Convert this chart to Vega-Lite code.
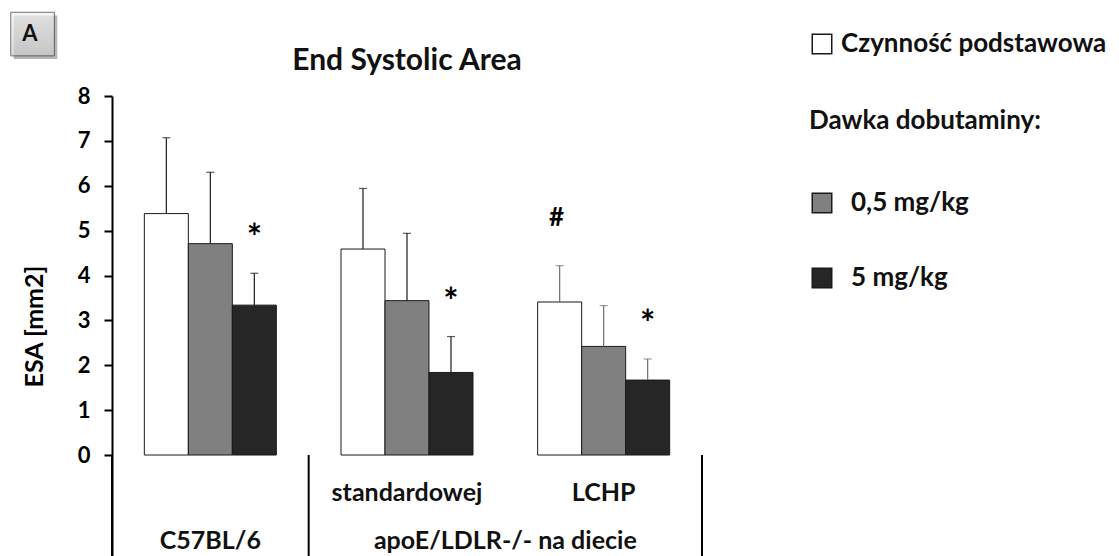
{
  "$schema": "https://vega.github.io/schema/vega-lite/v6.json",
  "autosize": {"type": "none"},
  "padding": {"left": 112, "top": 96, "right": 417, "bottom": 0},
  "width": 590,
  "height": 460,
  "background": "white",
  "config": {
    "view": {"stroke": null},
    "font": "Lato"
  },
  "title": {
    "text": "End Systolic Area",
    "font": "Lato",
    "fontSize": 30,
    "fontWeight": "bold",
    "color": "#111111",
    "anchor": "middle",
    "frame": "group",
    "baseline": "alphabetic",
    "offset": -90
  },
  "datasets": {
    "esa": [
      {"group": "C57BL/6", "condition": "Czynność podstawowa", "mean": 5.38, "upper": 7.07, "sig": ""},
      {"group": "C57BL/6", "condition": "0,5 mg/kg", "mean": 4.71, "upper": 6.30, "sig": ""},
      {"group": "C57BL/6", "condition": "5 mg/kg", "mean": 3.34, "upper": 4.05, "sig": "*"},
      {"group": "standardowej", "condition": "Czynność podstawowa", "mean": 4.59, "upper": 5.94, "sig": ""},
      {"group": "standardowej", "condition": "0,5 mg/kg", "mean": 3.44, "upper": 4.94, "sig": ""},
      {"group": "standardowej", "condition": "5 mg/kg", "mean": 1.84, "upper": 2.64, "sig": "*"},
      {"group": "LCHP", "condition": "Czynność podstawowa", "mean": 3.41, "upper": 4.22, "sig": "#"},
      {"group": "LCHP", "condition": "0,5 mg/kg", "mean": 2.42, "upper": 3.33, "sig": ""},
      {"group": "LCHP", "condition": "5 mg/kg", "mean": 1.67, "upper": 2.14, "sig": "*"}
    ],
    "table": [
      {"group": "standardowej", "level": "diet", "label": "standardowej"},
      {"group": "LCHP", "level": "diet", "label": "LCHP"},
      {"group": "C57BL/6", "level": "strain", "label": "C57BL/6"},
      {"group": "LCHP", "level": "strain_span", "label": "apoE/LDLR-/- na diecie"}
    ],
    "dividers": [
      {"group": "C57BL/6", "side": "start"},
      {"group": "standardowej", "side": "start"},
      {"group": "LCHP", "side": "end"}
    ],
    "panel": [
      {"label": "A"}
    ]
  },
  "layer": [
    {
      "data": {"name": "esa"},
      "layer": [
        {
          "transform": [{"filter": "datum.condition === 'Czynność podstawowa'"}],
          "mark": {"type": "bar", "stroke": "#1a1a1a", "strokeWidth": 1},
          "encoding": {
            "x": {"field": "group", "type": "nominal", "axis": null,
                  "scale": {"type": "band", "domain": ["C57BL/6", "standardowej", "LCHP"], "paddingInner": 0, "paddingOuter": 0}},
            "xOffset": {"field": "condition", "type": "nominal",
                        "scale": {"domain": ["Czynność podstawowa", "0,5 mg/kg", "5 mg/kg"], "paddingInner": 0, "paddingOuter": 0.735}},
            "y": {"field": "mean", "type": "quantitative",
                  "scale": {"domain": [-2.25, 8], "nice": false, "zero": false},
                  "axis": {
                    "title": "ESA [mm2]", "values": [0, 1, 2, 3, 4, 5, 6, 7, 8], "grid": false,
                    "domainColor": "#000000", "domainWidth": 2,
                    "tickColor": "#000000", "tickWidth": 2, "tickSize": 8,
                    "labelFont": "Lato", "labelFontSize": 22, "labelFontWeight": "bold", "labelColor": "#000000", "labelPadding": 14,
                    "titleFont": "Lato", "titleFontSize": 25, "titleFontWeight": "bold", "titleColor": "#000000", "titlePadding": 30
                  }},
            "fill": {"field": "condition", "type": "nominal",
                     "scale": {"domain": ["Czynność podstawowa"], "range": ["#ffffff"]},
                     "legend": {
                       "title": null, "orient": "none", "legendX": 697, "legendY": -65,
                       "symbolType": "square", "symbolSize": 380, "symbolStrokeColor": "#1a1a1a", "symbolStrokeWidth": 1.5,
                       "labelFont": "Lato", "labelFontSize": 26, "labelFontWeight": "bold", "labelColor": "#111111",
                       "labelOffset": 6, "labelLimit": 500
                     }}
          }
        },
        {
          "transform": [{"filter": "datum.condition !== 'Czynność podstawowa'"}],
          "mark": {"type": "bar", "stroke": "#1a1a1a", "strokeWidth": 1},
          "encoding": {
            "x": {"field": "group", "type": "nominal"},
            "xOffset": {"field": "condition", "type": "nominal"},
            "y": {"field": "mean", "type": "quantitative"},
            "fill": {"field": "condition", "type": "nominal",
                     "scale": {"domain": ["0,5 mg/kg", "5 mg/kg"], "range": ["#808080", "#262626"]},
                     "legend": {
                       "title": "Dawka dobutaminy:", "orient": "none", "legendX": 697, "legendY": 12,
                       "titleFont": "Lato", "titleFontSize": 26, "titleFontWeight": "bold", "titleColor": "#111111",
                       "titlePadding": 56, "titleLimit": 500,
                       "symbolType": "square", "symbolSize": 380, "symbolStrokeColor": "#1a1a1a", "symbolStrokeWidth": 1.5,
                       "labelFont": "Lato", "labelFontSize": 26, "labelFontWeight": "bold", "labelColor": "#111111",
                       "labelOffset": 16, "labelLimit": 500, "rowPadding": 49
                     }}
          }
        },
        {
          "mark": {"type": "rule", "strokeWidth": 1.2},
          "encoding": {
            "x": {"field": "group", "type": "nominal"},
            "xOffset": {"field": "condition", "type": "nominal"},
            "y": {"field": "mean", "type": "quantitative"},
            "y2": {"field": "upper"},
            "stroke": {"field": "group", "type": "nominal", "legend": null,
                       "scale": {"domain": ["C57BL/6", "standardowej", "LCHP"], "range": ["#1a1a1a", "#1a1a1a", "#6e6e6e"]}}
          }
        },
        {
          "mark": {"type": "tick", "size": 8, "thickness": 1.2},
          "encoding": {
            "x": {"field": "group", "type": "nominal"},
            "xOffset": {"field": "condition", "type": "nominal"},
            "y": {"field": "upper", "type": "quantitative"},
            "color": {"field": "group", "type": "nominal", "legend": null,
                      "scale": {"domain": ["C57BL/6", "standardowej", "LCHP"], "range": ["#1a1a1a", "#1a1a1a", "#6e6e6e"]}}
          }
        },
        {
          "transform": [{"filter": "datum.sig === '*'"}],
          "mark": {"type": "text", "font": "Lato", "fontSize": 36, "fontWeight": "bold", "color": "#000000", "baseline": "middle", "dy": -34},
          "encoding": {
            "x": {"field": "group", "type": "nominal"},
            "xOffset": {"field": "condition", "type": "nominal"},
            "y": {"field": "upper", "type": "quantitative"},
            "text": {"field": "sig"}
          }
        },
        {
          "transform": [{"filter": "datum.sig === '#'"}],
          "mark": {"type": "text", "font": "Lato", "fontSize": 26, "fontWeight": "bold", "color": "#000000", "baseline": "middle", "dy": -48, "dx": -3},
          "encoding": {
            "x": {"field": "group", "type": "nominal"},
            "xOffset": {"field": "condition", "type": "nominal"},
            "y": {"field": "upper", "type": "quantitative"},
            "text": {"field": "sig"}
          }
        }
      ],
      "resolve": {"scale": {"fill": "independent"}, "legend": {"fill": "independent"}}
    },
    {
      "mark": {"type": "rule", "stroke": "#000000", "strokeWidth": 2.5},
      "encoding": {"y": {"datum": 0}}
    },
    {
      "data": {"name": "dividers"},
      "transform": [{"filter": "datum.side === 'start'"}],
      "mark": {"type": "rule", "stroke": "#000000", "strokeWidth": 2},
      "encoding": {
        "x": {"field": "group", "type": "nominal", "bandPosition": 0},
        "y": {"datum": 0},
        "y2": {"datum": -2.25}
      }
    },
    {
      "data": {"name": "dividers"},
      "transform": [{"filter": "datum.side === 'end'"}],
      "mark": {"type": "rule", "stroke": "#000000", "strokeWidth": 2},
      "encoding": {
        "x": {"field": "group", "type": "nominal", "bandPosition": 1},
        "y": {"datum": 0},
        "y2": {"datum": -2.25}
      }
    },
    {
      "data": {"name": "table"},
      "transform": [{"filter": "datum.level === 'diet'"}],
      "mark": {"type": "text", "font": "Lato", "fontSize": 25, "fontWeight": "bold", "color": "#111111", "baseline": "middle"},
      "encoding": {
        "x": {"field": "group", "type": "nominal", "bandPosition": 0.5},
        "y": {"datum": -0.85},
        "text": {"field": "label"}
      }
    },
    {
      "data": {"name": "table"},
      "transform": [{"filter": "datum.level === 'strain'"}],
      "mark": {"type": "text", "font": "Lato", "fontSize": 25, "fontWeight": "bold", "color": "#111111", "baseline": "middle"},
      "encoding": {
        "x": {"field": "group", "type": "nominal", "bandPosition": 0.5},
        "y": {"datum": -1.92},
        "text": {"field": "label"}
      }
    },
    {
      "data": {"name": "table"},
      "transform": [{"filter": "datum.level === 'strain_span'"}],
      "mark": {"type": "text", "font": "Lato", "fontSize": 25, "fontWeight": "bold", "color": "#111111", "baseline": "middle"},
      "encoding": {
        "x": {"field": "group", "type": "nominal", "bandPosition": 0},
        "y": {"datum": -1.92},
        "text": {"field": "label"}
      }
    },
    {
      "data": {"name": "panel"},
      "mark": {"type": "square", "size": 1900, "filled": true, "color": "#7a7a7a", "opacity": 0.55},
      "encoding": {
        "x": {"datum": "C57BL/6", "type": "nominal", "bandPosition": -0.389},
        "y": {"datum": 9.31}
      }
    },
    {
      "data": {"name": "panel"},
      "mark": {"type": "square", "size": 1900, "filled": true, "stroke": "#3a3a3a", "strokeWidth": 1,
               "fill": {"gradient": "linear", "x1": 0, "y1": 0, "x2": 0, "y2": 1,
                        "stops": [{"offset": 0, "color": "#f4f4f4"}, {"offset": 1, "color": "#cdcdcd"}]}},
      "encoding": {
        "x": {"datum": "C57BL/6", "type": "nominal", "bandPosition": -0.404},
        "y": {"datum": 9.38}
      }
    },
    {
      "data": {"name": "panel"},
      "mark": {"type": "text", "font": "Lato", "fontSize": 22, "fontWeight": "bold", "color": "#111111", "baseline": "middle"},
      "encoding": {
        "x": {"datum": "C57BL/6", "type": "nominal", "bandPosition": -0.417},
        "y": {"datum": 9.38},
        "text": {"field": "label"}
      }
    }
  ]
}
